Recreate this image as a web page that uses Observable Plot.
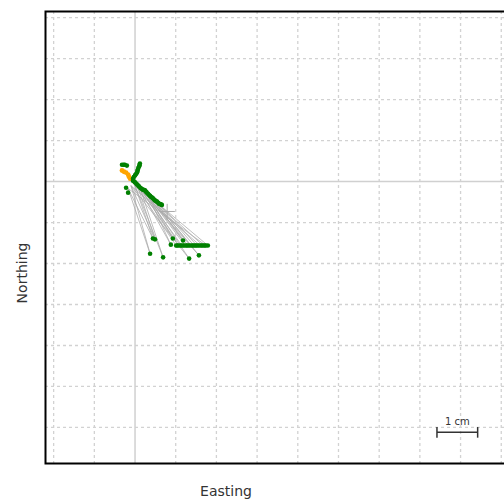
<!DOCTYPE html>
<html>
<head>
<meta charset="utf-8">
<script src="https://cdn.jsdelivr.net/npm/d3@7"></script>
<script src="https://cdn.jsdelivr.net/npm/@observablehq/plot@0.6"></script>
<style>
  html, body { margin: 0; padding: 0; background: #fff; overflow: hidden; }
  #wrap { position: relative; width: 504px; height: 500px; overflow: hidden; font-family: "DejaVu Sans", Verdana, sans-serif; }
  #chart { position: absolute; left: 0; top: 0; width: 515px; }
  #chart svg { max-width: none !important; }
  .lab { position: absolute; font-size: 14px; color: #333; white-space: nowrap; }
  #xlab { left: 226px; top: 491px; transform: translate(-50%, -50%); }
  #ylab { left: 22px; top: 273px; transform: translate(-50%, -50%) rotate(-90deg); }
</style>
</head>
<body>
<div id="wrap">
  <div id="chart"></div>
  <div class="lab" id="xlab">Easting</div>
  <div class="lab" id="ylab">Northing</div>
</div>
<script>
// Grid positions (cm)
const gridX = [-2, -1, 1, 2, 3, 4, 5, 6, 7, 8, 9];
const gridY = [-6, -5, -4, -3, -2, -1, 1, 2, 3, 4];
const zeroLine = [0];

// Green points (cm)
const greenX = [
  // diagonal stroke
  -0.05, -0.02, 0.00, 0.03, 0.05, 0.08, 0.10, 0.13, 0.15, 0.18, 0.20, 0.23, 0.25, 0.27, 0.29, 0.32, 0.34, 0.37, 0.39, 0.42, 0.44, 0.47, 0.49, 0.52, 0.54, 0.57, 0.59, 0.62, 0.64, 0.66,
  // upward stem
  0.12, 0.11, 0.10, 0.08, 0.07, 0.06, 0.05, 0.02, 0.00, -0.03, -0.05,
  // top-left dash
  -0.32, -0.28, -0.25, -0.20,
  // small left points
  -0.22, -0.17,
  // lower points
  0.44, 0.49, 0.93, 1.18, 0.88, 0.37, 0.69, 1.33, 1.57,
  // lower horizontal bar
  1.01, 1.04, 1.08, 1.12, 1.15, 1.19, 1.23, 1.27, 1.30, 1.34, 1.38, 1.42, 1.45, 1.49, 1.52, 1.56, 1.60, 1.64, 1.67, 1.71, 1.74, 1.79
];
const greenY = [
  0.02, 0.00, -0.02, -0.05, -0.07, -0.10, -0.12, -0.15, -0.17, -0.19, -0.20, -0.21, -0.22, -0.25, -0.27, -0.30, -0.32, -0.35, -0.37, -0.39, -0.41, -0.44, -0.46, -0.48, -0.49, -0.52, -0.54, -0.55, -0.56, -0.57,
  0.44, 0.40, 0.37, 0.33, 0.29, 0.26, 0.22, 0.18, 0.15, 0.11, 0.07,
  0.41, 0.41, 0.41, 0.39,
  -0.15, -0.27,
  -1.39, -1.41, -1.39, -1.44, -1.54, -1.76, -1.85, -1.88, -1.80,
  -1.56, -1.56, -1.56, -1.56, -1.56, -1.56, -1.56, -1.56, -1.56, -1.56, -1.56, -1.56, -1.56, -1.56, -1.56, -1.56, -1.56, -1.56, -1.56, -1.56, -1.56, -1.56
];

// Orange points (cm)
const orangeX = [-0.32, -0.27, -0.22, -0.17, -0.15, -0.12];
const orangeY = [0.27, 0.24, 0.22, 0.17, 0.12, 0.07];

// Grey connecting lines (cm)
const linkX1 = [-0.17, -0.02, -0.10, 0.05, 0.12, 0.29, 0.20, 0.39, 0.05, 0.29,
                -0.02, 0.05, 0.12, 0.20, 0.29, 0.39, 0.49, 0.59, -0.10, 0.12, -0.17, -0.02,
                -0.17, -0.10, -0.02, 0.12, -0.10, 0.20, 0.05, 0.39];
const linkY1 = [-0.17, -0.05, -0.10, -0.07, -0.15, -0.27, -0.20, -0.37, -0.07, -0.27,
                -0.05, -0.07, -0.15, -0.20, -0.27, -0.37, -0.46, -0.54, -0.10, -0.15, -0.17, -0.05,
                -0.17, -0.10, -0.05, -0.15, -0.10, -0.20, -0.07, -0.37];
const linkX2 = [0.44, 0.44, 0.49, 0.49, 0.93, 0.93, 1.18, 1.18, 0.88, 0.88,
                1.01, 1.08, 1.15, 1.23, 1.30, 1.38, 1.45, 1.52, 1.60, 1.67, 1.74, 1.79,
                0.37, 0.37, 0.69, 0.69, 1.33, 1.33, 1.57, 1.57];
const linkY2 = [-1.39, -1.39, -1.41, -1.41, -1.39, -1.39, -1.44, -1.44, -1.54, -1.54,
                -1.56, -1.56, -1.56, -1.56, -1.56, -1.56, -1.56, -1.56, -1.56, -1.56, -1.56, -1.56,
                -1.76, -1.76, -1.85, -1.85, -1.88, -1.88, -1.80, -1.80];

// Mean marker (cm)
const meanX = [0.79];
const meanY = [-0.73];

// Scale bar (cm)
const scaleStart = [7.42];
const scaleEnd = [8.42];
const scaleLevel = [-6.12];
const scaleLabel = ["1 cm"];

const green = greenX.map((x, i) => ({x, y: greenY[i]}));
const orange = orangeX.map((x, i) => ({x, y: orangeY[i]}));
const links = linkX1.map((x1, i) => ({x1, y1: linkY1[i], x2: linkX2[i], y2: linkY2[i]}));
const mean = meanX.map((x, i) => ({x, y: meanY[i]}));
const bar = scaleStart.map((s, i) => ({x1: s, x2: scaleEnd[i], y: scaleLevel[i], label: scaleLabel[i]}));
const barEnds = bar.flatMap(b => [{x: b.x1, y1: b.y - 0.13, y2: b.y + 0.13}, {x: b.x2, y1: b.y - 0.13, y2: b.y + 0.13}]);

const chart = Plot.plot({
  width: 515,
  height: 500,
  marginLeft: 45,
  marginRight: 0,
  marginTop: 11,
  marginBottom: 37,
  x: {domain: [-2.2, 9.35], axis: null},
  y: {domain: [-6.88, 4.15], axis: null},
  style: {fontFamily: "DejaVu Sans, Verdana, sans-serif", background: "white", maxWidth: "none"},
  marks: [
    Plot.ruleX(gridX, {stroke: "#d2d2d2", strokeWidth: 1.3, strokeDasharray: "3,3"}),
    Plot.ruleY(gridY, {stroke: "#d2d2d2", strokeWidth: 1.3, strokeDasharray: "3,3"}),
    Plot.ruleX(zeroLine, {stroke: "#d0d0d0", strokeWidth: 1.5}),
    Plot.ruleY(zeroLine, {stroke: "#d0d0d0", strokeWidth: 1.5}),
    Plot.link(links, {x1: "x1", y1: "y1", x2: "x2", y2: "y2", stroke: "#aaaaaa", strokeWidth: 0.9, strokeOpacity: 0.85}),
    Plot.dot(mean, {x: "x", y: "y", symbol: "plus", r: 5, stroke: "#aaaaaa", strokeWidth: 1}),
    Plot.dot(orange, {x: "x", y: "y", r: 2.4, fill: "orange"}),
    Plot.dot(green, {x: "x", y: "y", r: 2.3, fill: "green"}),
    Plot.link(bar, {x1: "x1", x2: "x2", y1: "y", y2: "y", stroke: "#333", strokeWidth: 1.5}),
    Plot.link(barEnds, {x1: "x", x2: "x", y1: "y1", y2: "y2", stroke: "#333", strokeWidth: 1.5}),
    Plot.text(bar, {x: d => (d.x1 + d.x2) / 2, y: "y", text: "label", dy: -11, fontSize: 10, fill: "#333"}),
    Plot.frame({stroke: "black", strokeWidth: 2})
  ]
});
chart.style.maxWidth = "none";
document.getElementById("chart").appendChild(chart);
</script>
</body>
</html>
